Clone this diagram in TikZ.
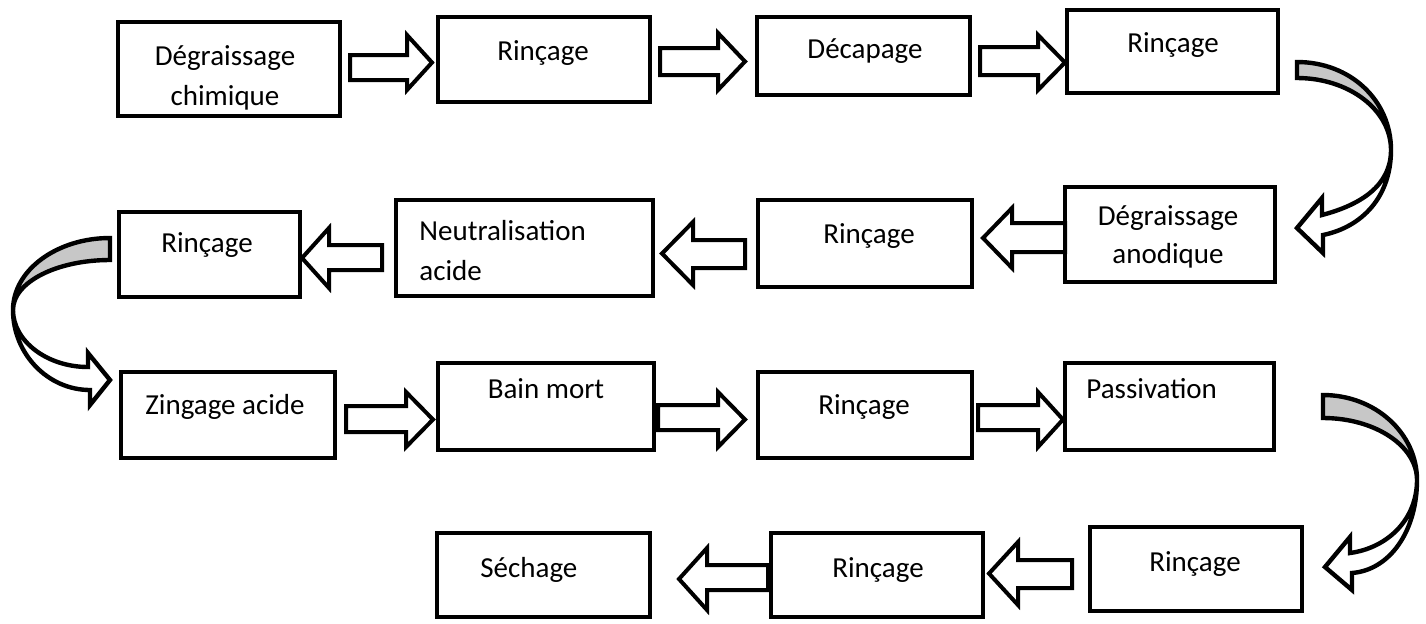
\documentclass[tikz,border=0pt]{standalone}
\usepackage{fontspec}
\setmainfont{Carlito}
\tikzset{
  box/.style={draw, line width=2.1pt, inner sep=0pt, outer sep=0pt, fill=white, line join=miter},
  txt/.style={font=\fontsize{14.5}{20}\selectfont, inner sep=0pt, anchor=base, text=black},
  barr/.style={draw, line width=2pt, fill=white, line join=miter, miter limit=10},
  carr/.style={draw, line width=2.2pt, line join=miter, miter limit=10},
  backface/.style={fill=black!22},
}
\newcommand\pbox[5]{\node[box, minimum width={(#4-#2)*0.5pt}, minimum height={(#5-#3)*0.5pt}] (#1) at ({(#2+#4)/2},{(#3+#5)/2}) {};}
\newcommand\barrow[7]{\draw[barr] (#1,#4) -- (#2,#4) -- (#2,#6) -- (#3,{(#6+#7)/2}) -- (#2,#7) -- (#2,#5) -- (#1,#5) -- cycle;}
\begin{document}
\begin{tikzpicture}[x=0.5pt,y=-0.5pt]
\useasboundingbox (0,0) rectangle (1426,623);
% boxes
\pbox{b1}{118}{22}{340}{116}
\pbox{b2}{438}{17}{650}{102}
\pbox{b3}{757}{17}{970}{95}
\pbox{b4}{1067}{10}{1278}{93}
\pbox{b5}{1065}{187}{1275}{282}
\pbox{b6}{758}{200}{972}{287}
\pbox{b7}{396}{200}{653}{296}
\pbox{b8}{119}{212}{300}{297}
\pbox{b9}{121}{372}{335}{458}
\pbox{b10}{438}{363}{654}{450}
\pbox{b11}{758}{372}{972}{458}
\pbox{b12}{1065}{363}{1274}{450}
\pbox{b13}{1090}{527}{1302}{611}
\pbox{b14}{771}{533}{983}{617}
\pbox{b15}{437}{533}{650}{617}
% texts
\node[txt] (t1a) at (225,65) {Dégraissage};
\node[txt] (t1b) at (225,105) {chimique};
\node[txt] (t2) at (543,60) {Rinçage};
\node[txt] (t3) at (865,58) {Décapage};
\node[txt] (t4) at (1173,52) {Rinçage};
\node[txt] (t5a) at (1168,225) {Dégraissage};
\node[txt] (t5b) at (1168,263) {anodique};
\node[txt] (t6) at (869,243) {Rinçage};
\node[txt, anchor=base west] (t7a) at (419,240) {Neutralisation};
\node[txt, anchor=base west] (t7b) at (419,280) {acide};
\node[txt] (t8) at (207,252) {Rinçage};
\node[txt] (t9) at (225,414) {Zingage acide};
\node[txt] (t10) at (546,398) {Bain mort};
\node[txt] (t11) at (864,414) {Rinçage};
\node[txt, anchor=base west] (t12) at (1086,398) {Passivation};
\node[txt] (t13) at (1195,571) {Rinçage};
\node[txt] (t14) at (878,577) {Rinçage};
\node[txt, anchor=base west] (t15) at (480,577) {Séchage};
% block arrows
\barrow{350}{407}{432}{55}{80}{35}{90}
\barrow{660}{718}{745}{48}{75}{33}{90}
\barrow{980}{1038}{1065}{47}{75}{35}{90}
\barrow{1065}{1012}{983}{223}{252}{208}{268}
\barrow{745}{693}{662}{240}{268}{222}{285}
\barrow{382}{329}{302}{245}{270}{228}{288}
\barrow{346}{406}{433}{406}{432}{392}{447}
\barrow{658}{718}{745}{405}{430}{392}{447}
\barrow{978}{1038}{1063}{405}{430}{392}{447}
\barrow{1072}{1018}{989}{560}{588}{542}{605}
\barrow{768}{707}{679}{565}{590}{548}{610}
% curved arrows
\draw[carr, backface] (1297,62) .. controls (1350,62) and (1391,100) .. (1391,150) .. controls (1391,110) and (1349,78) .. (1297,78) -- cycle;
\draw[carr, fill=white] (1391,150) .. controls (1391,186) and (1360,205) .. (1322,215) -- (1322,198) -- (1297,228) -- (1323,253) -- (1323,235) .. controls (1362,227) and (1391,197) .. (1391,150) -- cycle;
\draw[carr, backface] (110,238) .. controls (57,238) and (13,270) .. (13,310) .. controls (13,282) and (57,260) .. (110,260) -- cycle;
\draw[carr, fill=white] (13,310) .. controls (13,341) and (47,367) .. (88,367) -- (88,353) -- (110,380) -- (90,405) -- (90,390) .. controls (48,390) and (13,354) .. (13,310) -- cycle;
\draw[carr, backface] (1323,395) .. controls (1375,395) and (1417,433) .. (1417,480) .. controls (1417,446) and (1375,418) .. (1323,418) -- cycle;
\draw[carr, fill=white] (1417,480) .. controls (1417,520) and (1387,548) .. (1350,553) -- (1350,537) -- (1325,567) -- (1352,590) -- (1352,573) .. controls (1390,570) and (1417,531) .. (1417,480) -- cycle;
\end{tikzpicture}
\end{document}
